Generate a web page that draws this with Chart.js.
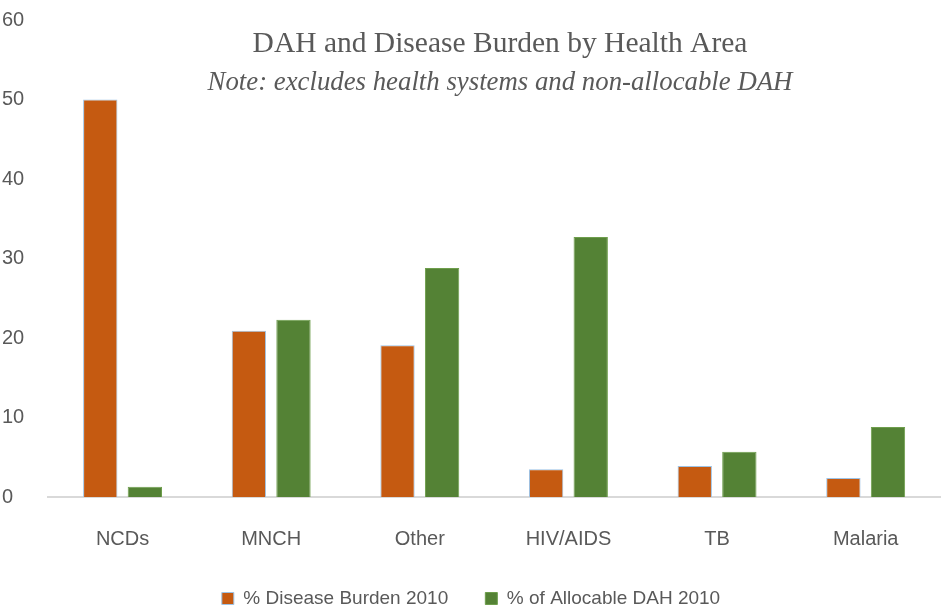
<!DOCTYPE html>
<html>
<head>
<meta charset="utf-8">
<script src="https://cdn.jsdelivr.net/npm/chart.js@4"></script>
<style>
  body { margin: 0; background: #fff; }
  #wrap { width: 944px; height: 614px; }
</style>
</head>
<body>
<div id="wrap"><canvas id="dah-chart"></canvas></div>
<script>
// values
const areas = ["NCDs", "MNCH", "Other", "HIV/AIDS", "TB", "Malaria"]
const diseaseBurden = [50, 20.9, 19.1, 3.5, 3.9, 2.4]
const allocableDAH = [1.3, 22.3, 28.8, 32.7, 5.7, 8.8]
const yTicks = [0, 10, 20, 30, 40, 50, 60]

const titleLines = ["DAH and Disease Burden by Health Area", "Note: excludes health systems and non-allocable DAH"]

// title sits inside the plot area in the original, so draw it by hand
const overlayTitle = {
    id: "overlayTitle",
    afterDraw(chart) {
        const ctx = chart.ctx
        ctx.save()
        ctx.fillStyle = "#595959"
        ctx.textAlign = "center"
        ctx.textBaseline = "middle"
        ctx.font = "29.5px 'Liberation Serif', serif"
        ctx.fillText(titleLines[0], 500, 44)
        ctx.font = "italic 26.8px 'Liberation Serif', serif"
        ctx.fillText(titleLines[1], 500, 83)
        ctx.restore()
    }
}

const tickFont = { family: "'Liberation Sans', sans-serif", size: 20 }

new Chart("dah-chart", {
    type: "bar",
    data: {
        labels: areas,
        datasets: [
            {
                label: "% Disease Burden 2010",
                data: diseaseBurden,
                backgroundColor: "#C55A11",
                borderColor: "#9DC3E6",
                borderWidth: 1,
                barPercentage: 0.77,
                categoryPercentage: 0.6
            },
            {
                label: "% of Allocable DAH 2010",
                data: allocableDAH,
                backgroundColor: "#548235",
                borderColor: "#6E9E4C",
                borderWidth: 1,
                barPercentage: 0.77,
                categoryPercentage: 0.6
            }
        ]
    },
    options: {
        responsive: true,
        maintainAspectRatio: false,
        animation: false,
        layout: { padding: { top: 4, right: 4, left: 2, bottom: -4 } },
        plugins: {
            legend: {
                position: "bottom",
                labels: {
                    boxWidth: 12,
                    boxHeight: 12,
                    padding: 16,
                    color: "#595959",
                    font: { family: "'Liberation Sans', sans-serif", size: 19 },
                    generateLabels(chart) {
                        const items = Chart.defaults.plugins.legend.labels.generateLabels(chart)
                        items[0].text = items[0].text + "    "
                        return items
                    }
                }
            },
            title: { display: false },
            tooltip: { enabled: false }
        },
        scales: {
            x: {
                grid: { display: false },
                border: { color: "#D9D9D9", width: 2 },
                ticks: { color: "#595959", font: tickFont, padding: 22 }
            },
            y: {
                min: 0,
                max: 60,
                afterBuildTicks(axis) { axis.ticks = yTicks.map(v => ({ value: v })) },
                grid: { display: false },
                border: { display: false },
                ticks: { color: "#595959", font: tickFont, padding: 8, crossAlign: "far" }
            }
        }
    },
    plugins: [overlayTitle]
})
</script>
</body>
</html>
